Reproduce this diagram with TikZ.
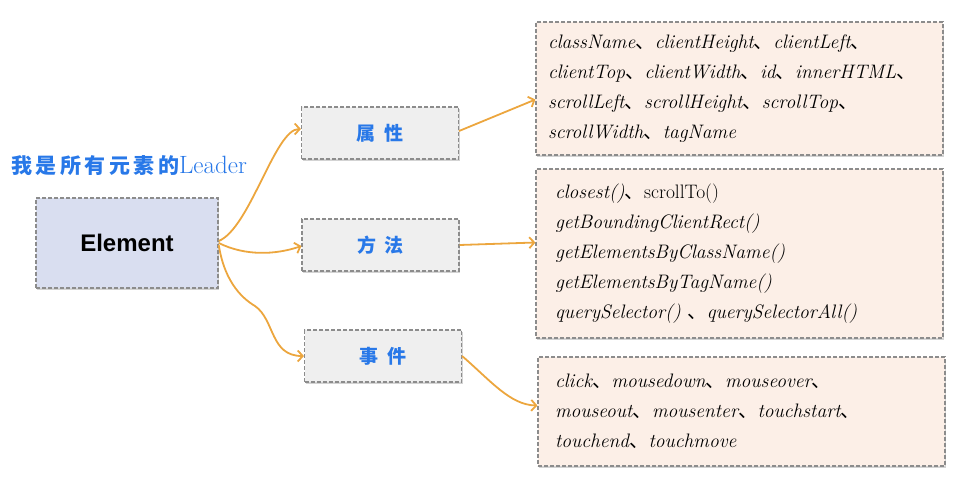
\documentclass[tikz,border=0pt]{standalone}
\usepackage{fontspec}
\newfontfamily\cjk{Noto Sans CJK SC}
\newfontfamily\elemfont{Liberation Sans}
\usetikzlibrary{arrows.meta,shadows}
\definecolor{lblue}{RGB}{40,120,232}
\definecolor{dgray}{RGB}{140,140,140}
\definecolor{elemfill}{RGB}{217,222,240}
\definecolor{midfill}{RGB}{239,239,239}
\definecolor{rfill}{RGB}{252,239,231}
\definecolor{aorange}{RGB}{236,166,62}
\newcommand{\dun}{{\cjk 、}}
\tikzset{
  basebox/.style={draw=dgray, dash pattern=on 4pt off 2pt, line width=1.1pt,
    drop shadow={shadow xshift=1pt,shadow yshift=-1.5pt,opacity=0.35}},
  elem/.style={basebox, line width=1.5pt, fill=elemfill, minimum width=182pt, minimum height=90pt,
    font=\elemfont\bfseries\fontsize{24}{24}\selectfont},
  mid/.style={basebox, fill=midfill, minimum width=157pt, minimum height=52pt,
    text=lblue, font=\cjk\bfseries\fontsize{19}{19}\selectfont},
  rbox/.style={basebox, fill=rfill, align=left, inner ysep=0pt,
    font=\itshape\fontsize{19.5}{30}\selectfont},
  conn/.style={draw=aorange, line width=1.8pt, -{Straight Barb[length=5pt,width=11pt]}},
}
\begin{document}
\begin{tikzpicture}[x=1pt,y=-1pt]
\useasboundingbox (0,0) rectangle (956,490);

\node[text=lblue, inner sep=0pt] (hdr) at (129,166)
  {{\cjk\bfseries\fontsize{21}{21}\selectfont 我\hspace{3.5pt}是\hspace{3.5pt}所\hspace{3.5pt}有\hspace{3.5pt}元\hspace{3.5pt}素\hspace{3.5pt}的}{\fontsize{25}{25}\selectfont Leader}};

\node[elem] (e) at (127,243) {Element};

\node[mid] (p1) at (380,133) {属\hspace{9pt}性};
\node[mid] (p2) at (380.5,245) {方\hspace{9pt}法};
\node[mid] (p3) at (383,356) {事\hspace{9pt}件};

\node[rbox, minimum width=407pt, minimum height=133pt, inner xsep=12pt, text width=383pt] (r1) at (739.5,88.5)
  {className\dun clientHeight\dun clientLeft\dun\\
   clientTop\dun clientWidth\dun id\dun innerHTML\dun\\
   scrollLeft\dun scrollHeight\dun scrollTop\dun\\
   scrollWidth\dun tagName};

\node[rbox, minimum width=407pt, minimum height=169pt, inner xsep=19pt, text width=369pt] (r2) at (739.5,253.5)
  {closest()\dun{\upshape scrollTo()}\\
   getBoundingClientRect()\\
   getElementsByClassName()\\
   getElementsByTagName()\\
   querySelector() \dun querySelectorAll()};

\node[rbox, minimum width=407pt, minimum height=109pt, inner xsep=17pt, text width=373pt] (r3) at (741.5,411.5)
  {click\dun mousedown\dun mouseover\dun\\
   mouseout\dun mousenter\dun touchstart\dun\\
   touchend\dun touchmove};

\draw[conn] ([yshift=2pt]e.east) .. controls (250,228) and (275,129) .. ([yshift=4pt]p1.west);
\draw[conn] (e.east) .. controls (245,256) and (275,255) .. ([yshift=-1pt]p2.west);
\draw[conn] ([yshift=-2pt]e.east) .. controls (225,285) and (245,300) .. (255,306)
  .. controls (275,320) and (270,356) .. (p3.west);

\draw[conn] ([yshift=2pt]p1.east) -- ([yshift=-11pt]r1.west);
\draw[conn] (p2.east) -- ([yshift=11pt]r2.west);
\draw[conn] (p3.east) .. controls (490,380) and (510,405) .. ([yshift=6pt]r3.west);
\end{tikzpicture}
\end{document}
